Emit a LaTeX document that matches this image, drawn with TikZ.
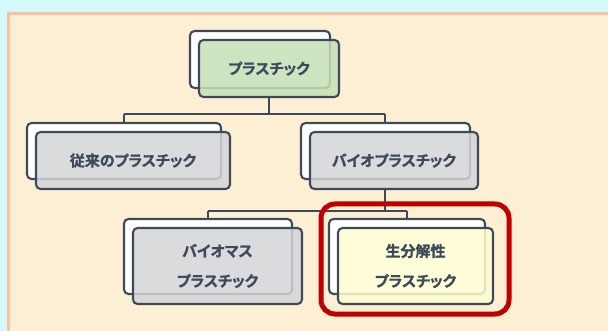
\documentclass[tikz,border=0pt]{standalone}
\usepackage{fontspec}
\newfontfamily\jp{Noto Sans CJK JP}[BoldFont={Noto Sans CJK JP Bold}, BoldFeatures={FakeBold=1.2}, RawFeature=+palt]
\definecolor{bgcyan}{HTML}{D5F9FB}
\definecolor{panelline}{HTML}{FAC1A0}
\definecolor{panelfill}{HTML}{FCEFD3}
\definecolor{boxline}{HTML}{3E4A5B}
\definecolor{greenfill}{HTML}{C6E0B6}
\definecolor{grayfill}{HTML}{D3D5D8}
\definecolor{yellowfill}{HTML}{FEFDD0}
\definecolor{hilite}{HTML}{C00000}
\tikzset{
  backbox/.style={draw=boxline, line width=2.1pt, fill=white, rounded corners=4.5pt},
  frontbox/.style={draw=boxline, line width=2.1pt, rounded corners=4.5pt, fill opacity=0.85, text opacity=1,
     font=\jp\bfseries\fontsize{15}{30}\selectfont, text=boxline, align=center},
  conn/.style={draw=boxline, line width=2.1pt},
}
\begin{document}
\begin{tikzpicture}[x=1pt,y=-1pt]
\useasboundingbox (0,0) rectangle (608,331);
\fill[bgcyan] (0,0) rectangle (608,331);
\draw[panelline, line width=3pt, fill=panelfill] (8.5,13.5) rectangle (625,345);

\coordinate (j1) at (269,114);
\coordinate (j1l) at (124,114);
\coordinate (j1r) at (385,114);
\coordinate (j2) at (385,211);
\coordinate (j2l) at (208,211);
\coordinate (j2r) at (407,211);

% top
\draw[backbox] (190,31) rectangle (330,88);
\node[frontbox, fill=greenfill, minimum width=140pt, minimum height=57pt] (top) at (269,68.5) {プラスチック};

% middle left
\draw[backbox] (27,123) rectangle (221,179);
\node[frontbox, fill=grayfill, minimum width=194pt, minimum height=57pt] (conv) at (133,160.5) {従来のプラスチック};

% middle right
\draw[backbox] (301,123) rectangle (470,179);
\node[frontbox, fill=grayfill, minimum width=168pt, minimum height=57pt] (bio) at (394,160.5) {バイオプラスチック};

% bottom left
\draw[backbox] (124,219) rectangle (292,294);
\node[frontbox, fill=grayfill, minimum width=169pt, minimum height=76pt] (mass) at (217.5,266) {バイオマス\\プラスチック};

% bottom right
\draw[backbox] (329,219) rectangle (485,294);
\node[frontbox, fill=yellowfill, minimum width=155pt, minimum height=76pt] (deg) at (415.5,266) {生分解性\\プラスチック};

% connectors
\draw[conn] (top.south -| j1) -- (j1);
\draw[conn] (j1l) -- (j1r);
\draw[conn] (j1l) -- (j1l |- 0,123);
\draw[conn] (j1r) -- (j1r |- 0,123);
\draw[conn] (bio.south -| j2) -- (j2);
\draw[conn] (j2l) -- (j2r);
\draw[conn] (j2l) -- (j2l |- 0,219);
\draw[conn] (j2r) -- (j2r |- 0,219);

% highlight
\draw[hilite, line width=5pt, rounded corners=14pt] (321,204) rectangle (509,314);
\end{tikzpicture}
\end{document}
